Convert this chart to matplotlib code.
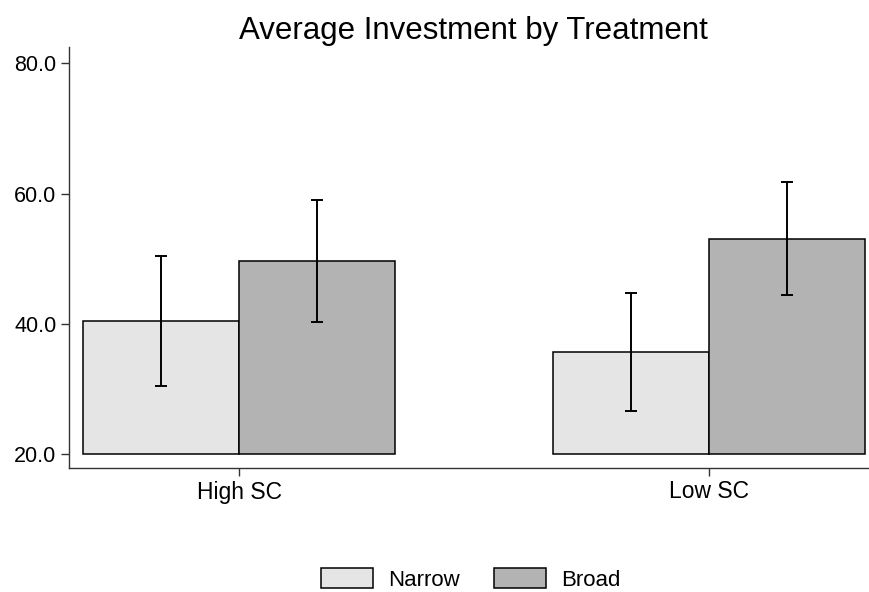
import numpy as np
import matplotlib
matplotlib.use("Agg")
import matplotlib.pyplot as plt

plt.rcParams['font.family'] = ['Liberation Sans', 'DejaVu Sans']

groups = ["High SC", "Low SC"]
treatments = ["Narrow", "Broad"]
colors = ["#e5e5e5", "#b3b3b3"]
means = {
    "Narrow": [40.4, 35.7],
    "Broad": [49.6, 53.0],
}
ci_low = {
    "Narrow": [30.4, 26.6],
    "Broad": [40.3, 44.4],
}
ci_high = {
    "Narrow": [50.4, 44.7],
    "Broad": [59.0, 61.7],
}
base = 20.0

fig = plt.figure(figsize=(8.69, 5.92), dpi=100)
ax = fig.add_axes([69 / 869, 124 / 592, 800 / 869, 421 / 592])

x = np.arange(len(groups))
width = 0.332
for i, t in enumerate(treatments):
    pos = x + (i - 0.5) * width
    m = np.array(means[t])
    ax.bar(pos, m - base, width, bottom=base, color=colors[i],
           edgecolor="black", linewidth=1.1, label=t, zorder=2)
    lo = m - np.array(ci_low[t])
    hi = np.array(ci_high[t]) - m
    ax.errorbar(pos, m, yerr=[lo, hi], fmt="none", ecolor="black",
                elinewidth=1.4, capsize=4.5, capthick=1.4, zorder=3)

ax.set_xlim(-0.362, 1.34)
ax.set_ylim(17.85, 82.5)
ax.set_yticks([20, 40, 60, 80])
ax.set_yticklabels(["20.0", "40.0", "60.0", "80.0"])
ax.set_xticks(x)
ax.set_xticklabels(groups)
ax.tick_params(length=6, width=1, color="#333333", pad=3)
ax.tick_params(axis="y", labelsize=15.5)
ax.tick_params(axis="x", labelsize=16.5)
ax.spines["top"].set_visible(False)
ax.spines["right"].set_visible(False)
for s in ("left", "bottom"):
    ax.spines[s].set_color("#333333")
    ax.spines[s].set_linewidth(1.0)

fig.text(473 / 869, 1 - 31 / 592, "Average Investment by Treatment",
         ha="center", va="center", fontsize=22.5)

fig.legend(loc="center", bbox_to_anchor=(470.5 / 869, 1 - 579.5 / 592), ncol=2,
           frameon=False, fontsize=16, handlelength=2.34, handleheight=0.95,
           columnspacing=1.53, handletextpad=0.68)

fig.savefig("out.png", dpi=100)
